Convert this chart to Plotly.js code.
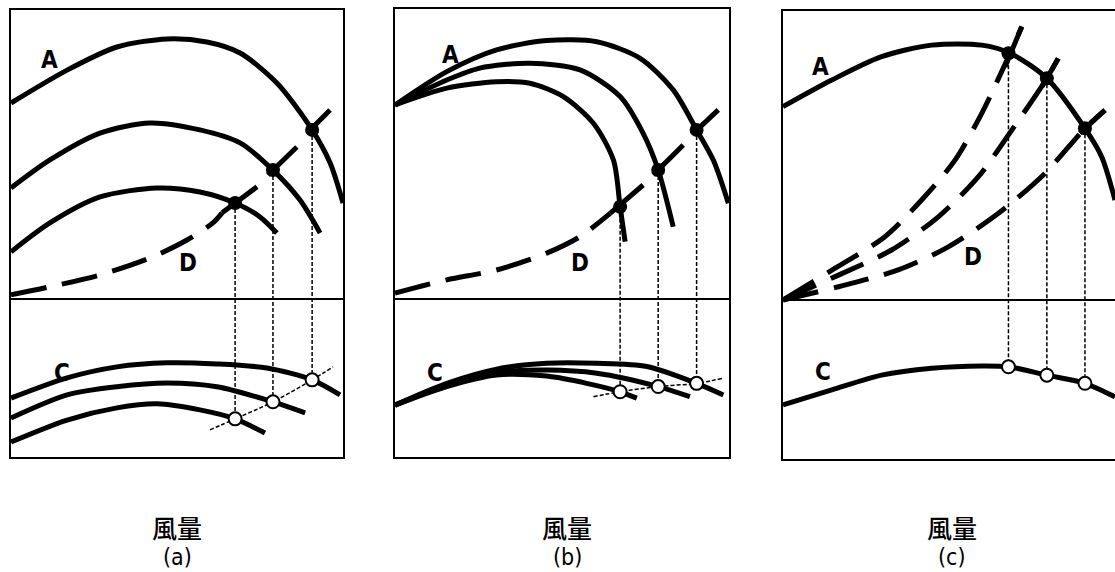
<!DOCTYPE html>
<html>
<head>
<meta charset="utf-8">
<script src="https://cdn.plot.ly/plotly-3.0.1.min.js"></script>
<style>
  body { margin: 0; background: #fff; }
  #plot { width: 1115px; height: 572px; }
</style>
</head>
<body>
<div id="plot"></div>
<script>
// flow (0-100 across each box) vs pressure (upper, >0) and power (lower, <0)

// ---- panel (a): speed control ----
const aA1x = [0, 16.9, 31.9, 47.0, 59.0, 69.0, 80.1, 90.7, 96.1, 100];
const aA1y = [67.8, 79.2, 87.2, 90.0, 88.9, 85.1, 74.7, 58.5, 47.1, 33.2];
const aA2x = [0, 11.7, 26.8, 41.9, 56.9, 69.0, 78.9, 87.0, 93.1];
const aA2y = [38.4, 48.1, 57.4, 60.9, 58.5, 54.0, 44.6, 34.3, 22.8];
const aA3x = [0, 11.7, 26.8, 44.0, 56.9, 67.5, 75.0, 80.1];
const aA3y = [16.3, 26.3, 35.3, 38.4, 37.0, 33.2, 28.4, 22.8];
const aDx = [0, 11.7, 26.8, 41.9, 53.0, 60.8, 63.6];
const aDy = [1.4, 4.2, 8.3, 14.2, 20.4, 26.3, 29.8];
const aTickX = [63.6, 74.1, null, 77.4, 86.1, null, 89.2, 96.1];
const aTickY = [29.8, 38.8, null, 42.9, 52.6, null, 57.4, 65.4];
const aC1x = [0, 16.9, 31.9, 47.0, 62.0, 77.1, 90.7, 99.1];
const aC1y = [-34.3, -27.3, -23.5, -22.1, -22.5, -23.9, -28.0, -33.2];
const aC2x = [0, 16.9, 31.9, 47.0, 62.0, 78.9, 88.6];
const aC2y = [-41.2, -33.2, -30.4, -29.1, -30.4, -35.6, -39.4];
const aC3x = [0, 16.9, 31.9, 44.0, 56.9, 67.5, 76.5];
const aC3y = [-49.5, -41.9, -37.7, -36.3, -38.4, -41.5, -46.4];
const aDotX = [67.5, 78.9, 90.7];
const aDotP = [33.2, 44.6, 58.5];
const aDotC = [-41.5, -35.6, -28.0];
const aLocusX = [59.9, 67.5, 78.9, 90.7, 97.0];
const aLocusY = [-45.3, -41.5, -35.6, -28.0, -23.5];

// ---- panel (b): inlet vane control ----
const bA1x = [0, 15.5, 30.4, 45.4, 60.4, 73.4, 83.3, 90.3, 95.3, 99.8];
const bA1y = [66.9, 78.4, 85.9, 89.1, 88.7, 83.0, 72.1, 58.3, 47.9, 33.0];
const bA2x = [0, 15.5, 25.4, 40.4, 55.4, 67.4, 74.3, 78.8, 83.3];
const bA2y = [66.9, 75.5, 79.6, 81.3, 79.0, 69.8, 57.1, 44.5, 24.9];
const bA3x = [0, 15.5, 30.4, 40.4, 50.4, 59.4, 65.4, 67.4, 68.9];
const bA3y = [66.9, 72.7, 74.9, 74.4, 69.8, 60.6, 47.9, 31.8, 19.8];
const bDx = [0, 15.5, 30.4, 45.4, 55.4, 64.4];
const bDy = [2.0, 6.6, 10.0, 15.8, 21.5, 29.5];
const bTickX = [64.4, 74.3, null, 77.3, 86.3, null, 89.3, 96.8];
const bTickY = [29.5, 39.3, null, 42.8, 53.1, null, 57.1, 65.2];
const bC1x = [0, 15.5, 30.4, 45.4, 60.4, 75.4, 90.3, 98.3];
const bC1y = [-36.6, -29.1, -24.2, -22.2, -22.2, -23.3, -29.1, -33.1];
const bC2x = [0, 15.5, 30.4, 45.4, 60.4, 78.8, 88.3];
const bC2y = [-36.6, -29.7, -25.4, -24.5, -25.6, -30.2, -33.7];
const bC3x = [0, 15.5, 30.4, 45.4, 57.4, 67.4, 72.4];
const bC3y = [-36.6, -30.2, -26.2, -26.6, -29.1, -32.0, -34.2];
const bDotX = [67.4, 78.8, 90.3];
const bDotP = [31.8, 44.5, 58.3];
const bDotC = [-32.0, -30.2, -29.1];
const bLocusX = [59.4, 67.4, 78.8, 90.3, 98.3];
const bLocusY = [-33.7, -32.0, -30.2, -29.1, -27.3];

// ---- panel (c): damper control ----
const cAx = [0, 14.6, 29.5, 44.5, 59.5, 68.0, 79.0, 90.4, 95.4, 99.4];
const cAy = [66.9, 76.1, 84.2, 88.2, 88.2, 85.4, 76.7, 59.4, 49.6, 34.6];
const cD1x = [0, 15.6, 30.5, 41.5, 51.5, 59.5, 68.0, 71.5];
const cD1y = [0, 11.0, 21.9, 34.6, 48.4, 64.6, 85.4, 94.6];
const cD2x = [0, 15.6, 32.5, 46.5, 58.5, 68.5, 79.0, 82.4];
const cD2y = [0, 8.1, 17.3, 28.8, 42.7, 58.8, 76.7, 83.6];
const cD3x = [0, 16.6, 34.5, 49.5, 64.5, 78.4, 90.4, 96.4];
const cD3y = [0, 4.6, 10.4, 18.4, 30.0, 43.8, 59.4, 65.7];
const cTickX = [66.5, 71.5, null, 77.5, 82.4, null, 88.9, 96.4];
const cTickY = [80.7, 94.6, null, 73.8, 83.6, null, 57.7, 65.7];
const cCx = [0, 14.6, 29.5, 44.5, 59.5, 67.5, 79.0, 90.4, 99.4];
const cCy = [-36.3, -31.1, -26.0, -23.6, -22.8, -23.1, -26.0, -28.8, -33.5];
const cDotX = [67.5, 79.0, 90.4];
const cDotP = [85.4, 76.7, 59.4];
const cDotC = [-23.1, -26.0, -28.8];

const curveLabels = ["A", "C", "D"];
const aLabelX = [11.7, 15.4, 53.3], aLabelY = [82.7, -25.6, 12.5];
const bLabelX = [16.5, 12.0, 55.4], bLabelY = [84.1, -25.5, 12.4];
const cLabelX = [11.1, 12.0, 56.9], cLabelY = [80.6, -24.9, 14.9];
const xTitle = "風量";
const panelNames = ["(a)", "(b)", "(c)"];

const narrow = "DejaVu Sans Condensed, Liberation Sans Narrow, Arial Narrow, sans-serif";
const traces = [];

function solid(ax, x, y) {
  traces.push({x: x, y: y, xaxis: "x" + ax, yaxis: "y" + ax, mode: "lines",
    line: {color: "black", width: 5, shape: "spline", smoothing: 0.8}, hoverinfo: "skip"});
}
function dashed(ax, x, y) {
  traces.push({x: x, y: y, xaxis: "x" + ax, yaxis: "y" + ax, mode: "lines",
    line: {color: "black", width: 5, dash: "36px,16px", shape: "spline", smoothing: 0.8}, hoverinfo: "skip"});
}
function ticks(ax, x, y) {
  traces.push({x: x, y: y, xaxis: "x" + ax, yaxis: "y" + ax, mode: "lines", connectgaps: false,
    line: {color: "black", width: 5}, hoverinfo: "skip"});
}
function thin(ax, x, y, w) {
  traces.push({x: x, y: y, xaxis: "x" + ax, yaxis: "y" + ax, mode: "lines",
    line: {color: "black", width: w, dash: "4px,2px", shape: "spline"}, hoverinfo: "skip"});
}
function drops(ax, dx, dp, dc) {
  const x = [], y = [];
  dx.forEach((v, i) => { x.push(v, v, null); y.push(dp[i], dc[i], null); });
  traces.push({x: x, y: y, xaxis: "x" + ax, yaxis: "y" + ax, mode: "lines", connectgaps: false,
    line: {color: "black", width: 1.5, dash: "4px,2px"}, hoverinfo: "skip"});
}
function dots(ax, dx, dp, dc) {
  traces.push({x: dx, y: dp, xaxis: "x" + ax, yaxis: "y" + ax, mode: "markers", cliponaxis: false,
    marker: {size: 14, color: "black"}, hoverinfo: "skip"});
  traces.push({x: dx, y: dc, xaxis: "x" + ax, yaxis: "y" + ax, mode: "markers", cliponaxis: false,
    marker: {size: 13, color: "white", line: {color: "black", width: 2}}, hoverinfo: "skip"});
}

// (a)
solid("", aA1x, aA1y); solid("", aA2x, aA2y); solid("", aA3x, aA3y);
dashed("", aDx, aDy); ticks("", aTickX, aTickY);
solid("", aC1x, aC1y); solid("", aC2x, aC2y); solid("", aC3x, aC3y);
thin("", aLocusX, aLocusY, 1.5);
drops("", aDotX, aDotP, aDotC); dots("", aDotX, aDotP, aDotC);
// (b)
solid("2", bA1x, bA1y); solid("2", bA2x, bA2y); solid("2", bA3x, bA3y);
dashed("2", bDx, bDy); ticks("2", bTickX, bTickY);
solid("2", bC1x, bC1y); solid("2", bC2x, bC2y); solid("2", bC3x, bC3y);
thin("2", bLocusX, bLocusY, 1.5);
drops("2", bDotX, bDotP, bDotC); dots("2", bDotX, bDotP, bDotC);
// (c)
solid("3", cAx, cAy);
dashed("3", cD1x, cD1y); dashed("3", cD2x, cD2y); dashed("3", cD3x, cD3y);
ticks("3", cTickX, cTickY);
solid("3", cCx, cCy);
drops("3", cDotX, cDotP, cDotC); dots("3", cDotX, cDotP, cDotC);

const annotations = [];
[["", aLabelX, aLabelY], ["2", bLabelX, bLabelY], ["3", cLabelX, cLabelY]].forEach(p => {
  curveLabels.forEach((t, i) => {
    annotations.push({text: t, x: p[1][i], y: p[2][i], xref: "x" + p[0], yref: "y" + p[0],
      xanchor: "center", yanchor: "middle",
      showarrow: false, font: {family: narrow, size: 24, weight: "bold", color: "black"}});
  });
});
const panelCenters = [177 / 1115, 567 / 1115, 952 / 1115];
panelNames.forEach((t, i) => {
  annotations.push({text: xTitle, x: panelCenters[i], y: 1 - 527 / 572, xref: "paper", yref: "paper",
    xanchor: "center", yanchor: "middle",
    showarrow: false, font: {family: "Noto Sans CJK JP", size: 25, weight: 500, color: "black"}});
  annotations.push({text: t, x: panelCenters[i], y: 1 - 557 / 572, xref: "paper", yref: "paper",
    xanchor: "center", yanchor: "middle",
    showarrow: false, font: {family: narrow, size: 23, color: "black"}});
});

function xax(domain, maxX, anchor) {
  return {domain: domain, range: [0, maxX], anchor: anchor, showline: true, mirror: true, linecolor: "black",
    linewidth: 2, showgrid: false, zeroline: false, showticklabels: false, ticks: ""};
}
function yax(domain, minY, anchor) {
  return {domain: domain, range: [minY, 100], anchor: anchor, showline: true, mirror: true, linecolor: "black",
    linewidth: 2, showgrid: false, zeroline: true, zerolinecolor: "black", zerolinewidth: 1.5,
    showticklabels: false, ticks: ""};
}

const layout = {
  width: 1115, height: 572,
  margin: {l: 0, r: 0, t: 0, b: 0},
  paper_bgcolor: "white", plot_bgcolor: "white",
  showlegend: false,
  xaxis: xax([11 / 1115, 343 / 1115], 100, "y"),
  yaxis: yax([1 - 457 / 572, 1 - 10 / 572], -54.7, "x"),
  xaxis2: xax([395 / 1115, 729 / 1115], 100, "y2"),
  yaxis2: yax([1 - 457 / 572, 1 - 9 / 572], -54.5, "x2"),
  xaxis3: xax([783 / 1115, 1], 99.4, "y3"),
  yaxis3: yax([1 - 459 / 572, 1 - 11 / 572], -55.0, "x3"),
  annotations: annotations
};

Plotly.newPlot("plot", traces, layout, {staticPlot: true});
</script>
</body>
</html>
